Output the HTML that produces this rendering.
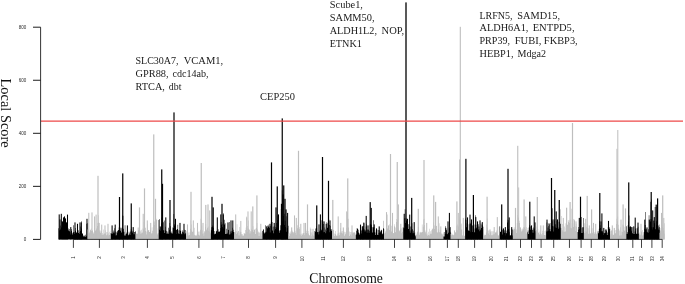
<!DOCTYPE html>
<html><head><meta charset="utf-8"><title>Local Score</title>
<style>
html,body{margin:0;padding:0;background:#fff;}
body{width:685px;height:284px;overflow:hidden;position:relative;}
svg{position:absolute;left:0;top:0;display:block;}
.tk{font-family:"Liberation Sans",sans-serif;font-size:4.5px;fill:#2a2a2a;}
.g{font-family:"Liberation Serif",serif;font-size:10.3px;fill:#1a1a1a;white-space:pre;}
.lab{font-family:"Liberation Serif",serif;font-size:14.5px;fill:#111;}
</style></head><body>
<svg width="685" height="284" viewBox="0 0 685 284">
<rect width="685" height="284" fill="#fff"/>
<path d="M58.50 239.40 L58.50 228.37 L59.00 228.37 L59.00 230.36 L59.50 230.36 L59.50 230.58 L60.00 230.58 L60.00 225.60 L60.50 225.60 L60.50 229.39 L61.00 229.39 L61.00 227.52 L61.50 227.52 L61.50 220.45 L62.00 220.45 L62.00 230.24 L62.50 230.24 L62.50 229.76 L63.00 229.76 L63.00 227.81 L63.50 227.81 L63.50 230.57 L64.00 230.57 L64.00 223.49 L64.50 223.49 L64.50 228.48 L65.00 228.48 L65.00 226.81 L65.50 226.81 L65.50 221.58 L66.00 221.58 L66.00 225.12 L66.50 225.12 L66.50 222.69 L67.00 222.69 L67.00 229.57 L67.50 229.57 L67.50 229.99 L68.00 229.99 L68.00 230.56 L68.50 230.56 L68.50 228.57 L69.00 228.57 L69.00 231.20 L69.50 231.20 L69.50 228.93 L70.00 228.93 L70.00 232.16 L70.50 232.16 L70.50 234.43 L71.00 234.43 L71.00 230.74 L71.50 230.74 L71.50 229.11 L72.00 229.11 L72.00 232.79 L72.50 232.79 L72.50 234.52 L73.00 234.52 L73.00 232.24 L73.50 232.24 L73.50 225.25 L74.00 225.25 L74.00 232.02 L74.50 232.02 L74.50 233.81 L75.00 233.81 L75.00 230.70 L75.50 230.70 L75.50 227.99 L76.00 227.99 L76.00 232.81 L76.50 232.81 L76.50 232.26 L77.00 232.26 L77.00 226.41 L77.50 226.41 L77.50 233.40 L78.00 233.40 L78.00 233.09 L78.50 233.09 L78.50 230.34 L79.00 230.34 L79.00 234.00 L79.50 234.00 L79.50 232.18 L80.00 232.18 L80.00 226.46 L80.50 226.46 L80.50 231.00 L81.00 231.00 L81.00 221.18 L81.50 221.18 L81.50 228.42 L82.00 228.42 L82.00 233.81 L82.50 233.81 L82.50 233.15 L83.00 233.15 L83.00 235.46 L83.50 235.46 L83.50 236.44 L84.00 236.44 L84.00 235.58 L84.50 235.58 L84.50 236.57 L85.00 236.57 L85.00 236.68 L85.50 236.68 L85.50 234.75 L86.00 234.75 L86.00 236.19 L86.50 236.19 L86.50 223.81 L87.00 223.81 L87.00 223.30 L87.50 223.30 L87.50 239.40Z" fill="#000"/>
<rect x="58.68" y="214.40" width="1.05" height="25.00" fill="#000"/>
<rect x="59.48" y="219.40" width="1.05" height="20.00" fill="#000"/>
<rect x="60.77" y="213.80" width="1.05" height="25.60" fill="#000"/>
<rect x="61.98" y="221.40" width="1.05" height="18.00" fill="#000"/>
<rect x="62.98" y="217.40" width="1.05" height="22.00" fill="#000"/>
<rect x="63.98" y="216.40" width="1.05" height="23.00" fill="#000"/>
<rect x="64.97" y="218.40" width="1.05" height="21.00" fill="#000"/>
<rect x="65.97" y="222.40" width="1.05" height="17.00" fill="#000"/>
<rect x="66.97" y="214.60" width="1.05" height="24.80" fill="#000"/>
<rect x="70.27" y="227.10" width="1.05" height="12.30" fill="#000"/>
<rect x="74.47" y="222.40" width="1.05" height="17.00" fill="#000"/>
<rect x="76.97" y="223.80" width="1.05" height="15.60" fill="#000"/>
<rect x="79.47" y="222.40" width="1.05" height="17.00" fill="#000"/>
<rect x="80.77" y="222.40" width="1.05" height="17.00" fill="#000"/>
<rect x="86.47" y="218.80" width="1.03" height="20.60" fill="#000"/>
<path d="M87.50 239.40 L87.50 229.44 L88.00 229.44 L88.00 233.08 L88.50 233.08 L88.50 228.90 L89.00 228.90 L89.00 233.22 L89.50 233.22 L89.50 231.74 L90.00 231.74 L90.00 230.31 L90.50 230.31 L90.50 229.60 L91.00 229.60 L91.00 230.95 L91.50 230.95 L91.50 228.39 L92.00 228.39 L92.00 229.89 L92.50 229.89 L92.50 230.97 L93.00 230.97 L93.00 233.58 L93.50 233.58 L93.50 232.36 L94.00 232.36 L94.00 227.74 L94.50 227.74 L94.50 233.75 L95.00 233.75 L95.00 230.95 L95.50 230.95 L95.50 229.95 L96.00 229.95 L96.00 228.27 L96.50 228.27 L96.50 229.55 L97.00 229.55 L97.00 225.93 L97.50 225.93 L97.50 222.91 L98.00 222.91 L98.00 215.20 L98.50 215.20 L98.50 222.70 L99.00 222.70 L99.00 230.12 L99.50 230.12 L99.50 231.44 L100.00 231.44 L100.00 232.65 L100.50 232.65 L100.50 230.51 L101.00 230.51 L101.00 231.01 L101.50 231.01 L101.50 235.07 L102.00 235.07 L102.00 234.72 L102.50 234.72 L102.50 233.07 L103.00 233.07 L103.00 229.58 L103.50 229.58 L103.50 234.43 L104.00 234.43 L104.00 233.09 L104.50 233.09 L104.50 234.07 L105.00 234.07 L105.00 233.61 L105.50 233.61 L105.50 230.13 L106.00 230.13 L106.00 231.88 L106.50 231.88 L106.50 235.21 L107.00 235.21 L107.00 232.12 L107.50 232.12 L107.50 234.56 L108.00 234.56 L108.00 233.27 L108.50 233.27 L108.50 235.42 L109.00 235.42 L109.00 234.92 L109.50 234.92 L109.50 231.77 L110.00 231.77 L110.00 233.23 L110.50 233.23 L110.50 230.68 L110.80 230.68 L110.80 239.40Z" fill="#bebebe"/>
<rect x="88.27" y="212.80" width="1.05" height="26.60" fill="#bebebe"/>
<rect x="91.47" y="212.40" width="1.05" height="27.00" fill="#bebebe"/>
<rect x="94.07" y="216.40" width="1.05" height="23.00" fill="#bebebe"/>
<rect x="95.57" y="214.60" width="1.05" height="24.80" fill="#bebebe"/>
<rect x="97.40" y="175.80" width="1.20" height="63.60" fill="#bebebe"/>
<rect x="98.67" y="222.90" width="1.05" height="16.50" fill="#bebebe"/>
<rect x="101.17" y="224.60" width="1.05" height="14.80" fill="#bebebe"/>
<rect x="104.47" y="225.40" width="1.05" height="14.00" fill="#bebebe"/>
<rect x="107.47" y="223.80" width="1.05" height="15.60" fill="#bebebe"/>
<path d="M110.80 239.40 L110.80 232.90 L111.30 232.90 L111.30 233.54 L111.80 233.54 L111.80 233.90 L112.30 233.90 L112.30 233.75 L112.80 233.75 L112.80 232.30 L113.30 232.30 L113.30 230.43 L113.80 230.43 L113.80 233.25 L114.30 233.25 L114.30 228.22 L114.80 228.22 L114.80 231.53 L115.30 231.53 L115.30 235.51 L115.80 235.51 L115.80 231.68 L116.30 231.68 L116.30 235.28 L116.80 235.28 L116.80 232.58 L117.30 232.58 L117.30 230.92 L117.80 230.92 L117.80 230.35 L118.30 230.35 L118.30 230.04 L118.80 230.04 L118.80 227.40 L119.30 227.40 L119.30 220.98 L119.80 220.98 L119.80 227.52 L120.30 227.52 L120.30 230.84 L120.80 230.84 L120.80 228.32 L121.30 228.32 L121.30 232.49 L121.80 232.49 L121.80 227.47 L122.30 227.47 L122.30 215.44 L122.80 215.44 L122.80 215.74 L123.30 215.74 L123.30 228.68 L123.80 228.68 L123.80 231.73 L124.30 231.73 L124.30 235.51 L124.80 235.51 L124.80 225.16 L125.30 225.16 L125.30 235.52 L125.80 235.52 L125.80 233.89 L126.30 233.89 L126.30 233.29 L126.80 233.29 L126.80 232.02 L127.30 232.02 L127.30 233.20 L127.80 233.20 L127.80 235.56 L128.30 235.56 L128.30 234.63 L128.80 234.63 L128.80 231.87 L129.30 231.87 L129.30 233.61 L129.80 233.61 L129.80 235.12 L130.30 235.12 L130.30 231.59 L130.80 231.59 L130.80 229.15 L131.30 229.15 L131.30 227.22 L131.80 227.22 L131.80 230.75 L132.30 230.75 L132.30 232.39 L132.80 232.39 L132.80 231.31 L133.30 231.31 L133.30 234.16 L133.80 234.16 L133.80 234.23 L134.30 234.23 L134.30 232.00 L134.80 232.00 L134.80 231.90 L135.30 231.90 L135.30 231.01 L135.70 231.01 L135.70 239.40Z" fill="#000"/>
<rect x="111.57" y="225.40" width="1.05" height="14.00" fill="#000"/>
<rect x="114.67" y="224.60" width="1.05" height="14.80" fill="#000"/>
<rect x="118.90" y="197.00" width="1.20" height="42.40" fill="#000"/>
<rect x="122.15" y="173.40" width="1.20" height="66.00" fill="#000"/>
<rect x="126.88" y="225.40" width="1.05" height="14.00" fill="#000"/>
<rect x="130.65" y="203.40" width="1.20" height="36.00" fill="#000"/>
<rect x="132.67" y="227.10" width="1.05" height="12.30" fill="#000"/>
<path d="M135.70 239.40 L135.70 233.45 L136.20 233.45 L136.20 233.38 L136.70 233.38 L136.70 234.08 L137.20 234.08 L137.20 233.56 L137.70 233.56 L137.70 227.55 L138.20 227.55 L138.20 227.62 L138.70 227.62 L138.70 230.27 L139.20 230.27 L139.20 226.92 L139.70 226.92 L139.70 231.64 L140.20 231.64 L140.20 230.60 L140.70 230.60 L140.70 233.72 L141.20 233.72 L141.20 229.80 L141.70 229.80 L141.70 232.77 L142.20 232.77 L142.20 232.53 L142.70 232.53 L142.70 228.62 L143.20 228.62 L143.20 229.61 L143.70 229.61 L143.70 222.11 L144.20 222.11 L144.20 217.54 L144.70 217.54 L144.70 226.91 L145.20 226.91 L145.20 228.00 L145.70 228.00 L145.70 230.93 L146.20 230.93 L146.20 234.54 L146.70 234.54 L146.70 231.94 L147.20 231.94 L147.20 224.13 L147.70 224.13 L147.70 230.96 L148.20 230.96 L148.20 230.00 L148.70 230.00 L148.70 229.90 L149.20 229.90 L149.20 232.01 L149.70 232.01 L149.70 232.12 L150.20 232.12 L150.20 229.64 L150.70 229.64 L150.70 227.44 L151.20 227.44 L151.20 233.61 L151.70 233.61 L151.70 233.32 L152.20 233.32 L152.20 230.70 L152.70 230.70 L152.70 227.23 L153.20 227.23 L153.20 220.36 L153.70 220.36 L153.70 222.13 L154.20 222.13 L154.20 221.34 L154.70 221.34 L154.70 224.90 L155.20 224.90 L155.20 223.41 L155.70 223.41 L155.70 218.54 L156.20 218.54 L156.20 228.45 L156.70 228.45 L156.70 228.34 L157.20 228.34 L157.20 234.54 L157.70 234.54 L157.70 233.33 L158.20 233.33 L158.20 233.07 L158.60 233.07 L158.60 239.40Z" fill="#bebebe"/>
<rect x="138.90" y="207.40" width="1.20" height="32.00" fill="#bebebe"/>
<rect x="142.67" y="213.80" width="1.05" height="25.60" fill="#bebebe"/>
<rect x="143.90" y="188.40" width="1.20" height="51.00" fill="#bebebe"/>
<rect x="146.78" y="220.40" width="1.05" height="19.00" fill="#bebebe"/>
<rect x="150.17" y="222.90" width="1.05" height="16.50" fill="#bebebe"/>
<rect x="153.15" y="134.40" width="1.20" height="105.00" fill="#bebebe"/>
<rect x="154.90" y="198.80" width="1.20" height="40.60" fill="#bebebe"/>
<rect x="155.97" y="219.60" width="1.05" height="19.80" fill="#bebebe"/>
<path d="M158.60 239.40 L158.60 220.05 L159.10 220.05 L159.10 218.90 L159.60 218.90 L159.60 229.64 L160.10 229.64 L160.10 230.76 L160.60 230.76 L160.60 227.33 L161.10 227.33 L161.10 223.22 L161.60 223.22 L161.60 217.62 L162.10 217.62 L162.10 215.51 L162.60 215.51 L162.60 220.62 L163.10 220.62 L163.10 222.31 L163.60 222.31 L163.60 230.29 L164.10 230.29 L164.10 220.41 L164.60 220.41 L164.60 233.02 L165.10 233.02 L165.10 226.85 L165.60 226.85 L165.60 230.18 L166.10 230.18 L166.10 231.07 L166.60 231.07 L166.60 233.74 L167.10 233.74 L167.10 233.54 L167.60 233.54 L167.60 231.57 L168.10 231.57 L168.10 227.63 L168.60 227.63 L168.60 233.87 L169.10 233.87 L169.10 229.77 L169.60 229.77 L169.60 222.95 L170.10 222.95 L170.10 226.27 L170.60 226.27 L170.60 232.44 L171.10 232.44 L171.10 233.15 L171.60 233.15 L171.60 231.52 L172.10 231.52 L172.10 233.50 L172.60 233.50 L172.60 227.39 L173.10 227.39 L173.10 227.88 L173.60 227.88 L173.60 213.92 L174.10 213.92 L174.10 225.54 L174.60 225.54 L174.60 224.04 L175.10 224.04 L175.10 228.18 L175.60 228.18 L175.60 233.99 L176.10 233.99 L176.10 229.94 L176.60 229.94 L176.60 229.55 L177.10 229.55 L177.10 229.12 L177.60 229.12 L177.60 224.75 L178.10 224.75 L178.10 233.41 L178.60 233.41 L178.60 230.28 L179.10 230.28 L179.10 233.92 L179.60 233.92 L179.60 230.36 L180.10 230.36 L180.10 230.65 L180.60 230.65 L180.60 230.85 L181.10 230.85 L181.10 233.46 L181.60 233.46 L181.60 234.26 L182.10 234.26 L182.10 231.86 L182.60 231.86 L182.60 230.29 L183.10 230.29 L183.10 231.75 L183.60 231.75 L183.60 233.33 L184.10 233.33 L184.10 229.72 L184.60 229.72 L184.60 234.25 L185.10 234.25 L185.10 230.01 L185.60 230.01 L185.60 233.27 L186.10 233.27 L186.10 239.40Z" fill="#000"/>
<rect x="159.67" y="226.40" width="1.05" height="13.00" fill="#000"/>
<rect x="161.15" y="169.40" width="1.20" height="70.00" fill="#000"/>
<rect x="161.90" y="183.80" width="1.20" height="55.60" fill="#000"/>
<rect x="165.28" y="217.40" width="1.05" height="22.00" fill="#000"/>
<rect x="169.40" y="200.00" width="1.20" height="39.40" fill="#000"/>
<rect x="173.40" y="112.40" width="1.20" height="127.00" fill="#000"/>
<rect x="174.97" y="218.80" width="1.05" height="20.60" fill="#000"/>
<rect x="179.47" y="222.90" width="1.05" height="16.50" fill="#000"/>
<rect x="183.47" y="223.80" width="1.05" height="15.60" fill="#000"/>
<path d="M186.10 239.40 L186.10 231.20 L186.60 231.20 L186.60 235.86 L187.10 235.86 L187.10 234.45 L187.60 234.45 L187.60 235.43 L188.10 235.43 L188.10 232.54 L188.60 232.54 L188.60 235.40 L189.10 235.40 L189.10 234.97 L189.60 234.97 L189.60 232.20 L190.10 232.20 L190.10 228.69 L190.60 228.69 L190.60 220.30 L191.10 220.30 L191.10 224.61 L191.60 224.61 L191.60 230.54 L192.10 230.54 L192.10 231.93 L192.60 231.93 L192.60 231.52 L193.10 231.52 L193.10 231.16 L193.60 231.16 L193.60 235.47 L194.10 235.47 L194.10 227.67 L194.60 227.67 L194.60 234.66 L195.10 234.66 L195.10 234.88 L195.60 234.88 L195.60 235.89 L196.10 235.89 L196.10 234.79 L196.60 234.79 L196.60 235.66 L197.10 235.66 L197.10 235.39 L197.60 235.39 L197.60 231.97 L198.10 231.97 L198.10 231.47 L198.60 231.47 L198.60 234.69 L199.10 234.69 L199.10 235.44 L199.60 235.44 L199.60 231.44 L200.10 231.44 L200.10 229.75 L200.60 229.75 L200.60 218.79 L201.10 218.79 L201.10 220.34 L201.60 220.34 L201.60 225.44 L202.10 225.44 L202.10 230.35 L202.60 230.35 L202.60 233.84 L203.10 233.84 L203.10 233.23 L203.60 233.23 L203.60 235.87 L204.10 235.87 L204.10 230.96 L204.60 230.96 L204.60 232.20 L205.10 232.20 L205.10 227.03 L205.60 227.03 L205.60 224.05 L206.10 224.05 L206.10 230.37 L206.60 230.37 L206.60 229.25 L207.10 229.25 L207.10 227.59 L207.60 227.59 L207.60 228.08 L208.10 228.08 L208.10 226.61 L208.60 226.61 L208.60 230.86 L209.10 230.86 L209.10 231.76 L209.60 231.76 L209.60 229.41 L210.10 229.41 L210.10 232.55 L210.60 232.55 L210.60 233.49 L210.90 233.49 L210.90 239.40Z" fill="#bebebe"/>
<rect x="186.97" y="224.40" width="1.05" height="15.00" fill="#bebebe"/>
<rect x="190.40" y="191.80" width="1.20" height="47.60" fill="#bebebe"/>
<rect x="192.78" y="220.40" width="1.05" height="19.00" fill="#bebebe"/>
<rect x="196.97" y="222.90" width="1.05" height="16.50" fill="#bebebe"/>
<rect x="200.65" y="163.00" width="1.20" height="76.40" fill="#bebebe"/>
<rect x="202.47" y="222.90" width="1.05" height="16.50" fill="#bebebe"/>
<rect x="205.20" y="204.90" width="1.20" height="34.50" fill="#bebebe"/>
<rect x="207.40" y="204.40" width="1.20" height="35.00" fill="#bebebe"/>
<rect x="209.17" y="210.40" width="1.05" height="29.00" fill="#bebebe"/>
<path d="M210.90 239.40 L210.90 230.16 L211.40 230.16 L211.40 227.33 L211.90 227.33 L211.90 226.97 L212.40 226.97 L212.40 225.42 L212.90 225.42 L212.90 226.41 L213.40 226.41 L213.40 228.00 L213.90 228.00 L213.90 231.12 L214.40 231.12 L214.40 234.29 L214.90 234.29 L214.90 233.80 L215.40 233.80 L215.40 233.87 L215.90 233.87 L215.90 231.16 L216.40 231.16 L216.40 231.13 L216.90 231.13 L216.90 230.47 L217.40 230.47 L217.40 233.27 L217.90 233.27 L217.90 229.37 L218.40 229.37 L218.40 231.75 L218.90 231.75 L218.90 231.57 L219.40 231.57 L219.40 231.68 L219.90 231.68 L219.90 230.79 L220.40 230.79 L220.40 227.89 L220.90 227.89 L220.90 221.90 L221.40 221.90 L221.40 224.69 L221.90 224.69 L221.90 223.65 L222.40 223.65 L222.40 226.98 L222.90 226.98 L222.90 228.61 L223.40 228.61 L223.40 213.26 L223.90 213.26 L223.90 224.58 L224.40 224.58 L224.40 219.82 L224.90 219.82 L224.90 223.33 L225.40 223.33 L225.40 234.07 L225.90 234.07 L225.90 233.78 L226.40 233.78 L226.40 228.86 L226.90 228.86 L226.90 233.97 L227.40 233.97 L227.40 232.70 L227.90 232.70 L227.90 229.85 L228.40 229.85 L228.40 230.04 L228.90 230.04 L228.90 234.48 L229.40 234.48 L229.40 221.97 L229.90 221.97 L229.90 234.25 L230.40 234.25 L230.40 231.57 L230.90 231.57 L230.90 233.30 L231.40 233.30 L231.40 231.30 L231.90 231.30 L231.90 230.64 L232.40 230.64 L232.40 227.74 L232.90 227.74 L232.90 232.04 L233.40 232.04 L233.40 229.68 L233.90 229.68 L233.90 232.28 L234.30 232.28 L234.30 239.40Z" fill="#000"/>
<rect x="211.40" y="196.80" width="1.20" height="42.60" fill="#000"/>
<rect x="212.60" y="207.40" width="1.20" height="32.00" fill="#000"/>
<rect x="216.78" y="217.40" width="1.05" height="22.00" fill="#000"/>
<rect x="220.28" y="214.40" width="1.05" height="25.00" fill="#000"/>
<rect x="221.40" y="203.80" width="1.20" height="35.60" fill="#000"/>
<rect x="222.78" y="214.40" width="1.05" height="25.00" fill="#000"/>
<rect x="227.47" y="222.40" width="1.05" height="17.00" fill="#000"/>
<rect x="230.47" y="220.40" width="1.05" height="19.00" fill="#000"/>
<rect x="232.28" y="220.40" width="1.05" height="19.00" fill="#000"/>
<path d="M234.30 239.40 L234.30 232.21 L234.80 232.21 L234.80 232.63 L235.30 232.63 L235.30 232.20 L235.80 232.20 L235.80 231.12 L236.30 231.12 L236.30 234.03 L236.80 234.03 L236.80 224.18 L237.30 224.18 L237.30 232.59 L237.80 232.59 L237.80 230.77 L238.30 230.77 L238.30 230.96 L238.80 230.96 L238.80 235.54 L239.30 235.54 L239.30 226.96 L239.80 226.96 L239.80 232.43 L240.30 232.43 L240.30 231.42 L240.80 231.42 L240.80 232.01 L241.30 232.01 L241.30 234.02 L241.80 234.02 L241.80 235.39 L242.30 235.39 L242.30 233.99 L242.80 233.99 L242.80 235.85 L243.30 235.85 L243.30 235.55 L243.80 235.55 L243.80 232.94 L244.30 232.94 L244.30 233.44 L244.80 233.44 L244.80 233.68 L245.30 233.68 L245.30 229.89 L245.80 229.89 L245.80 227.39 L246.30 227.39 L246.30 216.43 L246.80 216.43 L246.80 231.99 L247.30 231.99 L247.30 226.02 L247.80 226.02 L247.80 228.58 L248.30 228.58 L248.30 220.42 L248.80 220.42 L248.80 229.86 L249.30 229.86 L249.30 229.62 L249.80 229.62 L249.80 233.53 L250.30 233.53 L250.30 231.03 L250.80 231.03 L250.80 231.66 L251.30 231.66 L251.30 228.63 L251.80 228.63 L251.80 230.34 L252.30 230.34 L252.30 230.01 L252.80 230.01 L252.80 226.17 L253.30 226.17 L253.30 231.94 L253.80 231.94 L253.80 229.80 L254.30 229.80 L254.30 229.80 L254.80 229.80 L254.80 228.91 L255.30 228.91 L255.30 233.93 L255.80 233.93 L255.80 228.20 L256.30 228.20 L256.30 227.64 L256.80 227.64 L256.80 223.10 L257.30 223.10 L257.30 229.58 L257.80 229.58 L257.80 232.61 L258.30 232.61 L258.30 231.47 L258.80 231.47 L258.80 235.89 L259.30 235.89 L259.30 232.50 L259.80 232.50 L259.80 232.53 L260.30 232.53 L260.30 233.53 L260.80 233.53 L260.80 235.85 L261.30 235.85 L261.30 232.47 L261.80 232.47 L261.80 231.80 L262.30 231.80 L262.30 235.17 L262.40 235.17 L262.40 239.40Z" fill="#bebebe"/>
<rect x="235.17" y="214.40" width="1.05" height="25.00" fill="#bebebe"/>
<rect x="240.28" y="220.90" width="1.05" height="18.50" fill="#bebebe"/>
<rect x="246.17" y="217.40" width="1.05" height="22.00" fill="#bebebe"/>
<rect x="247.47" y="211.40" width="1.05" height="28.00" fill="#bebebe"/>
<rect x="250.67" y="211.40" width="1.05" height="28.00" fill="#bebebe"/>
<rect x="252.20" y="206.40" width="1.20" height="33.00" fill="#bebebe"/>
<rect x="256.30" y="195.40" width="1.20" height="44.00" fill="#bebebe"/>
<rect x="260.28" y="223.80" width="1.05" height="15.60" fill="#bebebe"/>
<path d="M262.40 239.40 L262.40 230.89 L262.90 230.89 L262.90 230.09 L263.40 230.09 L263.40 228.88 L263.90 228.88 L263.90 232.56 L264.40 232.56 L264.40 233.44 L264.90 233.44 L264.90 232.44 L265.40 232.44 L265.40 225.28 L265.90 225.28 L265.90 231.79 L266.40 231.79 L266.40 231.78 L266.90 231.78 L266.90 225.76 L267.40 225.76 L267.40 228.32 L267.90 228.32 L267.90 224.83 L268.40 224.83 L268.40 226.60 L268.90 226.60 L268.90 226.38 L269.40 226.38 L269.40 227.96 L269.90 227.96 L269.90 232.59 L270.40 232.59 L270.40 225.72 L270.90 225.72 L270.90 222.13 L271.40 222.13 L271.40 216.17 L271.90 216.17 L271.90 222.09 L272.40 222.09 L272.40 230.41 L272.90 230.41 L272.90 226.87 L273.40 226.87 L273.40 233.31 L273.90 233.31 L273.90 225.67 L274.40 225.67 L274.40 230.46 L274.90 230.46 L274.90 226.94 L275.40 226.94 L275.40 228.99 L275.90 228.99 L275.90 227.59 L276.40 227.59 L276.40 222.92 L276.90 222.92 L276.90 215.60 L277.40 215.60 L277.40 220.05 L277.90 220.05 L277.90 228.19 L278.40 228.19 L278.40 232.59 L278.90 232.59 L278.90 232.65 L279.40 232.65 L279.40 230.40 L279.90 230.40 L279.90 230.36 L280.40 230.36 L280.40 225.29 L280.90 225.29 L280.90 208.88 L281.40 208.88 L281.40 215.08 L281.90 215.08 L281.90 190.18 L282.40 190.18 L282.40 221.20 L282.90 221.20 L282.90 215.84 L283.40 215.84 L283.40 215.99 L283.90 215.99 L283.90 224.96 L284.40 224.96 L284.40 213.71 L284.90 213.71 L284.90 220.67 L285.40 220.67 L285.40 226.94 L285.90 226.94 L285.90 216.33 L286.40 216.33 L286.40 231.75 L286.90 231.75 L286.90 228.31 L287.40 228.31 L287.40 227.78 L287.90 227.78 L287.90 225.75 L288.40 225.75 L288.40 239.40Z" fill="#000"/>
<rect x="266.18" y="226.40" width="1.05" height="13.00" fill="#000"/>
<rect x="269.48" y="223.80" width="1.05" height="15.60" fill="#000"/>
<rect x="270.90" y="162.40" width="1.20" height="77.00" fill="#000"/>
<rect x="273.68" y="222.90" width="1.05" height="16.50" fill="#000"/>
<rect x="275.40" y="207.40" width="1.20" height="32.00" fill="#000"/>
<rect x="276.65" y="186.40" width="1.20" height="53.00" fill="#000"/>
<rect x="277.98" y="214.40" width="1.05" height="25.00" fill="#000"/>
<rect x="280.90" y="203.80" width="1.20" height="35.60" fill="#000"/>
<rect x="281.65" y="118.40" width="1.20" height="121.00" fill="#000"/>
<rect x="282.40" y="194.40" width="1.20" height="45.00" fill="#000"/>
<rect x="283.15" y="185.40" width="1.20" height="54.00" fill="#000"/>
<rect x="284.40" y="198.80" width="1.20" height="40.60" fill="#000"/>
<rect x="285.40" y="209.40" width="1.20" height="30.00" fill="#000"/>
<rect x="287.08" y="212.90" width="1.05" height="26.50" fill="#000"/>
<path d="M288.40 239.40 L288.40 233.44 L288.90 233.44 L288.90 235.88 L289.40 235.88 L289.40 232.63 L289.90 232.63 L289.90 233.72 L290.40 233.72 L290.40 231.45 L290.90 231.45 L290.90 233.10 L291.40 233.10 L291.40 227.69 L291.90 227.69 L291.90 230.60 L292.40 230.60 L292.40 231.84 L292.90 231.84 L292.90 233.29 L293.40 233.29 L293.40 231.90 L293.90 231.90 L293.90 231.48 L294.40 231.48 L294.40 234.57 L294.90 234.57 L294.90 230.63 L295.40 230.63 L295.40 232.86 L295.90 232.86 L295.90 235.03 L296.40 235.03 L296.40 234.66 L296.90 234.66 L296.90 228.31 L297.40 228.31 L297.40 225.33 L297.90 225.33 L297.90 221.48 L298.40 221.48 L298.40 216.26 L298.90 216.26 L298.90 227.07 L299.40 227.07 L299.40 228.75 L299.90 228.75 L299.90 234.15 L300.40 234.15 L300.40 235.15 L300.90 235.15 L300.90 233.73 L301.40 233.73 L301.40 235.76 L301.90 235.76 L301.90 233.48 L302.40 233.48 L302.40 234.64 L302.90 234.64 L302.90 233.12 L303.40 233.12 L303.40 233.28 L303.90 233.28 L303.90 233.07 L304.40 233.07 L304.40 234.92 L304.90 234.92 L304.90 235.89 L305.40 235.89 L305.40 235.42 L305.90 235.42 L305.90 233.03 L306.40 233.03 L306.40 230.64 L306.90 230.64 L306.90 228.63 L307.40 228.63 L307.40 228.62 L307.90 228.62 L307.90 231.06 L308.40 231.06 L308.40 233.53 L308.90 233.53 L308.90 235.10 L309.40 235.10 L309.40 235.39 L309.90 235.39 L309.90 227.53 L310.40 227.53 L310.40 232.47 L310.90 232.47 L310.90 236.14 L311.40 236.14 L311.40 232.46 L311.90 232.46 L311.90 232.16 L312.40 232.16 L312.40 234.42 L312.90 234.42 L312.90 235.86 L313.40 235.86 L313.40 235.45 L313.90 235.45 L313.90 232.48 L314.40 232.48 L314.40 236.06 L314.60 236.06 L314.60 239.40Z" fill="#bebebe"/>
<rect x="291.18" y="227.40" width="1.05" height="12.00" fill="#bebebe"/>
<rect x="293.98" y="215.40" width="1.05" height="24.00" fill="#bebebe"/>
<rect x="295.78" y="217.90" width="1.05" height="21.50" fill="#bebebe"/>
<rect x="297.90" y="150.80" width="1.20" height="88.60" fill="#bebebe"/>
<rect x="300.28" y="223.80" width="1.05" height="15.60" fill="#bebebe"/>
<rect x="303.48" y="222.90" width="1.05" height="16.50" fill="#bebebe"/>
<rect x="304.98" y="222.90" width="1.05" height="16.50" fill="#bebebe"/>
<rect x="306.90" y="204.40" width="1.20" height="35.00" fill="#bebebe"/>
<rect x="310.28" y="228.80" width="1.05" height="10.60" fill="#bebebe"/>
<rect x="312.48" y="228.80" width="1.05" height="10.60" fill="#bebebe"/>
<path d="M314.60 239.40 L314.60 231.08 L315.10 231.08 L315.10 228.38 L315.60 228.38 L315.60 231.82 L316.10 231.82 L316.10 226.36 L316.60 226.36 L316.60 228.32 L317.10 228.32 L317.10 232.11 L317.60 232.11 L317.60 232.21 L318.10 232.21 L318.10 231.98 L318.60 231.98 L318.60 234.54 L319.10 234.54 L319.10 231.46 L319.60 231.46 L319.60 230.41 L320.10 230.41 L320.10 228.98 L320.60 228.98 L320.60 230.93 L321.10 230.93 L321.10 229.79 L321.60 229.79 L321.60 220.26 L322.10 220.26 L322.10 218.03 L322.60 218.03 L322.60 221.23 L323.10 221.23 L323.10 224.04 L323.60 224.04 L323.60 232.37 L324.10 232.37 L324.10 231.93 L324.60 231.93 L324.60 227.52 L325.10 227.52 L325.10 229.40 L325.60 229.40 L325.60 233.24 L326.10 233.24 L326.10 231.27 L326.60 231.27 L326.60 222.20 L327.10 222.20 L327.10 227.86 L327.60 227.86 L327.60 223.13 L328.10 223.13 L328.10 213.76 L328.60 213.76 L328.60 219.33 L329.10 219.33 L329.10 225.04 L329.60 225.04 L329.60 232.15 L330.10 232.15 L330.10 225.71 L330.60 225.71 L330.60 229.57 L331.10 229.57 L331.10 230.67 L331.60 230.67 L331.60 229.10 L332.00 229.10 L332.00 239.40Z" fill="#000"/>
<rect x="316.15" y="205.40" width="1.20" height="34.00" fill="#000"/>
<rect x="318.48" y="224.40" width="1.05" height="15.00" fill="#000"/>
<rect x="319.88" y="214.40" width="1.05" height="25.00" fill="#000"/>
<rect x="321.90" y="157.00" width="1.20" height="82.40" fill="#000"/>
<rect x="323.48" y="221.40" width="1.05" height="18.00" fill="#000"/>
<rect x="325.68" y="223.80" width="1.05" height="15.60" fill="#000"/>
<rect x="327.90" y="180.80" width="1.20" height="58.60" fill="#000"/>
<rect x="329.48" y="220.40" width="1.05" height="19.00" fill="#000"/>
<path d="M332.00 239.40 L332.00 229.16 L332.50 229.16 L332.50 224.59 L333.00 224.59 L333.00 230.05 L333.50 230.05 L333.50 229.77 L334.00 229.77 L334.00 233.59 L334.50 233.59 L334.50 235.88 L335.00 235.88 L335.00 231.11 L335.50 231.11 L335.50 234.16 L336.00 234.16 L336.00 235.72 L336.50 235.72 L336.50 235.38 L337.00 235.38 L337.00 233.38 L337.50 233.38 L337.50 235.67 L338.00 235.67 L338.00 235.75 L338.50 235.75 L338.50 232.90 L339.00 232.90 L339.00 235.26 L339.50 235.26 L339.50 232.45 L340.00 232.45 L340.00 232.72 L340.50 232.72 L340.50 228.01 L341.00 228.01 L341.00 232.75 L341.50 232.75 L341.50 231.15 L342.00 231.15 L342.00 230.90 L342.50 230.90 L342.50 233.46 L343.00 233.46 L343.00 228.40 L343.50 228.40 L343.50 232.61 L344.00 232.61 L344.00 231.68 L344.50 231.68 L344.50 235.81 L345.00 235.81 L345.00 234.36 L345.50 234.36 L345.50 232.14 L346.00 232.14 L346.00 231.26 L346.50 231.26 L346.50 228.12 L347.00 228.12 L347.00 219.35 L347.50 219.35 L347.50 212.62 L348.00 212.62 L348.00 218.81 L348.50 218.81 L348.50 227.39 L349.00 227.39 L349.00 231.42 L349.50 231.42 L349.50 235.89 L350.00 235.89 L350.00 234.44 L350.50 234.44 L350.50 232.01 L351.00 232.01 L351.00 235.84 L351.50 235.84 L351.50 232.04 L352.00 232.04 L352.00 233.61 L352.50 233.61 L352.50 231.76 L353.00 231.76 L353.00 232.91 L353.50 232.91 L353.50 231.92 L354.00 231.92 L354.00 232.14 L354.50 232.14 L354.50 232.47 L355.00 232.47 L355.00 235.29 L355.50 235.29 L355.50 232.95 L355.80 232.95 L355.80 239.40Z" fill="#bebebe"/>
<rect x="332.20" y="199.90" width="1.20" height="39.50" fill="#bebebe"/>
<rect x="337.68" y="216.40" width="1.05" height="23.00" fill="#bebebe"/>
<rect x="340.28" y="222.90" width="1.05" height="16.50" fill="#bebebe"/>
<rect x="342.78" y="227.40" width="1.05" height="12.00" fill="#bebebe"/>
<rect x="346.18" y="211.40" width="1.05" height="28.00" fill="#bebebe"/>
<rect x="347.15" y="178.40" width="1.20" height="61.00" fill="#bebebe"/>
<rect x="351.48" y="225.40" width="1.05" height="14.00" fill="#bebebe"/>
<path d="M355.80 239.40 L355.80 234.47 L356.30 234.47 L356.30 230.86 L356.80 230.86 L356.80 228.09 L357.30 228.09 L357.30 230.68 L357.80 230.68 L357.80 232.22 L358.30 232.22 L358.30 229.68 L358.80 229.68 L358.80 232.95 L359.30 232.95 L359.30 234.55 L359.80 234.55 L359.80 234.58 L360.30 234.58 L360.30 233.66 L360.80 233.66 L360.80 233.43 L361.30 233.43 L361.30 230.49 L361.80 230.49 L361.80 229.65 L362.30 229.65 L362.30 226.13 L362.80 226.13 L362.80 228.43 L363.30 228.43 L363.30 226.04 L363.80 226.04 L363.80 223.34 L364.30 223.34 L364.30 229.62 L364.80 229.62 L364.80 231.62 L365.30 231.62 L365.30 230.22 L365.80 230.22 L365.80 226.39 L366.30 226.39 L366.30 223.73 L366.80 223.73 L366.80 232.85 L367.30 232.85 L367.30 229.78 L367.80 229.78 L367.80 228.88 L368.30 228.88 L368.30 229.90 L368.80 229.90 L368.80 232.76 L369.30 232.76 L369.30 230.64 L369.80 230.64 L369.80 224.40 L370.30 224.40 L370.30 224.11 L370.80 224.11 L370.80 225.31 L371.30 225.31 L371.30 224.56 L371.80 224.56 L371.80 227.11 L372.30 227.11 L372.30 232.38 L372.80 232.38 L372.80 227.51 L373.30 227.51 L373.30 220.13 L373.80 220.13 L373.80 227.09 L374.30 227.09 L374.30 232.25 L374.80 232.25 L374.80 232.39 L375.30 232.39 L375.30 235.07 L375.80 235.07 L375.80 230.34 L376.30 230.34 L376.30 234.41 L376.80 234.41 L376.80 229.85 L377.30 229.85 L377.30 234.74 L377.80 234.74 L377.80 234.88 L378.30 234.88 L378.30 230.07 L378.80 230.07 L378.80 233.11 L379.30 233.11 L379.30 230.24 L379.80 230.24 L379.80 231.85 L380.30 231.85 L380.30 230.77 L380.80 230.77 L380.80 232.41 L381.30 232.41 L381.30 229.82 L381.80 229.82 L381.80 233.37 L382.30 233.37 L382.30 234.17 L382.80 234.17 L382.80 233.83 L383.30 233.83 L383.30 232.85 L383.80 232.85 L383.80 220.75 L384.00 220.75 L384.00 239.40Z" fill="#000"/>
<rect x="356.98" y="228.80" width="1.05" height="10.60" fill="#000"/>
<rect x="359.98" y="224.60" width="1.05" height="14.80" fill="#000"/>
<rect x="361.78" y="226.40" width="1.05" height="13.00" fill="#000"/>
<rect x="363.28" y="222.60" width="1.05" height="16.80" fill="#000"/>
<rect x="365.68" y="215.90" width="1.05" height="23.50" fill="#000"/>
<rect x="367.48" y="225.40" width="1.05" height="14.00" fill="#000"/>
<rect x="369.60" y="202.10" width="1.20" height="37.30" fill="#000"/>
<rect x="370.60" y="207.90" width="1.20" height="31.50" fill="#000"/>
<rect x="373.68" y="224.40" width="1.05" height="15.00" fill="#000"/>
<rect x="375.98" y="228.40" width="1.05" height="11.00" fill="#000"/>
<rect x="378.68" y="226.40" width="1.05" height="13.00" fill="#000"/>
<rect x="380.98" y="230.40" width="1.05" height="9.00" fill="#000"/>
<rect x="383.08" y="228.40" width="0.92" height="11.00" fill="#000"/>
<path d="M384.00 239.40 L384.00 233.61 L384.50 233.61 L384.50 229.08 L385.00 229.08 L385.00 232.43 L385.50 232.43 L385.50 230.81 L386.00 230.81 L386.00 219.89 L386.50 219.89 L386.50 230.90 L387.00 230.90 L387.00 214.59 L387.50 214.59 L387.50 228.39 L388.00 228.39 L388.00 233.05 L388.50 233.05 L388.50 232.86 L389.00 232.86 L389.00 229.90 L389.50 229.90 L389.50 224.34 L390.00 224.34 L390.00 222.54 L390.50 222.54 L390.50 216.18 L391.00 216.18 L391.00 225.84 L391.50 225.84 L391.50 231.59 L392.00 231.59 L392.00 226.89 L392.50 226.89 L392.50 230.93 L393.00 230.93 L393.00 233.05 L393.50 233.05 L393.50 233.17 L394.00 233.17 L394.00 233.73 L394.50 233.73 L394.50 224.15 L395.00 224.15 L395.00 227.45 L395.50 227.45 L395.50 232.18 L396.00 232.18 L396.00 218.96 L396.50 218.96 L396.50 222.03 L397.00 222.03 L397.00 219.92 L397.50 219.92 L397.50 219.45 L398.00 219.45 L398.00 229.24 L398.50 229.24 L398.50 227.42 L399.00 227.42 L399.00 231.23 L399.50 231.23 L399.50 230.22 L400.00 230.22 L400.00 228.71 L400.50 228.71 L400.50 229.86 L401.00 229.86 L401.00 233.25 L401.50 233.25 L401.50 228.24 L402.00 228.24 L402.00 227.35 L402.50 227.35 L402.50 231.67 L403.00 231.67 L403.00 227.19 L403.30 227.19 L403.30 239.40Z" fill="#bebebe"/>
<rect x="385.98" y="212.10" width="1.05" height="27.30" fill="#bebebe"/>
<rect x="387.98" y="225.40" width="1.05" height="14.00" fill="#bebebe"/>
<rect x="389.90" y="154.00" width="1.20" height="85.40" fill="#bebebe"/>
<rect x="391.98" y="212.90" width="1.05" height="26.50" fill="#bebebe"/>
<rect x="393.98" y="226.40" width="1.05" height="13.00" fill="#bebebe"/>
<rect x="396.65" y="162.00" width="1.20" height="77.40" fill="#bebebe"/>
<rect x="397.70" y="204.40" width="1.20" height="35.00" fill="#bebebe"/>
<rect x="400.28" y="223.80" width="1.05" height="15.60" fill="#bebebe"/>
<path d="M403.30 239.40 L403.30 227.53 L403.80 227.53 L403.80 228.21 L404.30 228.21 L404.30 218.16 L404.80 218.16 L404.80 209.20 L405.30 209.20 L405.30 222.99 L405.80 222.99 L405.80 218.11 L406.30 218.11 L406.30 220.46 L406.80 220.46 L406.80 219.01 L407.30 219.01 L407.30 219.98 L407.80 219.98 L407.80 224.10 L408.30 224.10 L408.30 228.91 L408.80 228.91 L408.80 224.41 L409.30 224.41 L409.30 231.27 L409.80 231.27 L409.80 232.63 L410.30 232.63 L410.30 226.43 L410.80 226.43 L410.80 230.39 L411.30 230.39 L411.30 226.15 L411.80 226.15 L411.80 223.30 L412.30 223.30 L412.30 229.13 L412.80 229.13 L412.80 233.27 L413.30 233.27 L413.30 230.71 L413.80 230.71 L413.80 232.60 L414.30 232.60 L414.30 233.16 L414.80 233.16 L414.80 235.01 L415.30 235.01 L415.30 236.15 L415.80 236.15 L415.80 232.27 L415.90 232.27 L415.90 239.40Z" fill="#000"/>
<rect x="403.68" y="213.80" width="1.05" height="25.60" fill="#000"/>
<rect x="405.35" y="2.40" width="1.30" height="237.00" fill="#000"/>
<rect x="406.98" y="218.80" width="1.05" height="20.60" fill="#000"/>
<rect x="409.18" y="214.60" width="1.05" height="24.80" fill="#000"/>
<rect x="411.10" y="197.90" width="1.20" height="41.50" fill="#000"/>
<rect x="413.68" y="222.10" width="1.05" height="17.30" fill="#000"/>
<path d="M415.90 239.40 L415.90 233.70 L416.40 233.70 L416.40 235.09 L416.90 235.09 L416.90 232.32 L417.40 232.32 L417.40 231.61 L417.90 231.61 L417.90 226.71 L418.40 226.71 L418.40 226.89 L418.90 226.89 L418.90 232.55 L419.40 232.55 L419.40 234.79 L419.90 234.79 L419.90 231.76 L420.40 231.76 L420.40 232.55 L420.90 232.55 L420.90 232.40 L421.40 232.40 L421.40 232.23 L421.90 232.23 L421.90 224.61 L422.40 224.61 L422.40 232.00 L422.90 232.00 L422.90 226.86 L423.40 226.86 L423.40 219.53 L423.90 219.53 L423.90 218.78 L424.40 218.78 L424.40 224.90 L424.90 224.90 L424.90 230.62 L425.40 230.62 L425.40 232.21 L425.90 232.21 L425.90 234.33 L426.40 234.33 L426.40 235.01 L426.90 235.01 L426.90 233.59 L427.40 233.59 L427.40 235.75 L427.90 235.75 L427.90 234.92 L428.40 234.92 L428.40 231.85 L428.90 231.85 L428.90 235.40 L429.40 235.40 L429.40 228.66 L429.90 228.66 L429.90 233.65 L430.40 233.65 L430.40 231.24 L430.90 231.24 L430.90 233.81 L431.40 233.81 L431.40 230.14 L431.90 230.14 L431.90 228.41 L432.40 228.41 L432.40 229.37 L432.90 229.37 L432.90 228.50 L433.40 228.50 L433.40 222.18 L433.90 222.18 L433.90 225.45 L434.40 225.45 L434.40 229.06 L434.90 229.06 L434.90 224.88 L435.40 224.88 L435.40 221.78 L435.90 221.78 L435.90 225.75 L436.40 225.75 L436.40 226.00 L436.90 226.00 L436.90 232.07 L437.40 232.07 L437.40 232.73 L437.90 232.73 L437.90 229.00 L438.40 229.00 L438.40 231.59 L438.90 231.59 L438.90 223.21 L439.40 223.21 L439.40 232.21 L439.90 232.21 L439.90 229.71 L440.40 229.71 L440.40 231.82 L440.90 231.82 L440.90 233.01 L441.40 233.01 L441.40 234.04 L441.90 234.04 L441.90 235.17 L442.40 235.17 L442.40 233.85 L442.90 233.85 L442.90 233.60 L443.40 233.60 L443.40 239.40Z" fill="#bebebe"/>
<rect x="417.70" y="208.80" width="1.20" height="30.60" fill="#bebebe"/>
<rect x="423.40" y="160.00" width="1.20" height="79.40" fill="#bebebe"/>
<rect x="426.18" y="222.90" width="1.05" height="16.50" fill="#bebebe"/>
<rect x="433.15" y="195.40" width="1.20" height="44.00" fill="#bebebe"/>
<rect x="435.00" y="201.90" width="1.20" height="37.50" fill="#bebebe"/>
<rect x="437.78" y="216.40" width="1.05" height="23.00" fill="#bebebe"/>
<rect x="440.28" y="226.40" width="1.05" height="13.00" fill="#bebebe"/>
<path d="M443.40 239.40 L443.40 236.53 L443.90 236.53 L443.90 232.08 L444.40 232.08 L444.40 236.41 L444.90 236.41 L444.90 233.68 L445.40 233.68 L445.40 226.14 L445.90 226.14 L445.90 229.61 L446.40 229.61 L446.40 230.13 L446.90 230.13 L446.90 234.03 L447.40 234.03 L447.40 234.31 L447.90 234.31 L447.90 233.04 L448.40 233.04 L448.40 232.50 L448.90 232.50 L448.90 227.69 L449.40 227.69 L449.40 228.42 L449.90 228.42 L449.90 231.69 L450.40 231.69 L450.40 233.32 L450.60 233.32 L450.60 239.40Z" fill="#000"/>
<rect x="445.28" y="227.90" width="1.05" height="11.50" fill="#000"/>
<rect x="447.48" y="221.40" width="1.05" height="18.00" fill="#000"/>
<rect x="448.88" y="212.90" width="1.05" height="26.50" fill="#000"/>
<rect x="449.78" y="227.10" width="0.82" height="12.30" fill="#000"/>
<path d="M450.60 239.40 L450.60 234.05 L451.10 234.05 L451.10 235.26 L451.60 235.26 L451.60 232.68 L452.10 232.68 L452.10 234.98 L452.60 234.98 L452.60 234.12 L453.10 234.12 L453.10 235.26 L453.60 235.26 L453.60 234.76 L454.10 234.76 L454.10 230.85 L454.60 230.85 L454.60 230.12 L455.10 230.12 L455.10 232.06 L455.60 232.06 L455.60 232.76 L456.10 232.76 L456.10 229.66 L456.60 229.66 L456.60 225.85 L457.10 225.85 L457.10 224.48 L457.60 224.48 L457.60 230.16 L458.10 230.16 L458.10 226.70 L458.60 226.70 L458.60 225.45 L459.10 225.45 L459.10 216.51 L459.60 216.51 L459.60 219.20 L460.10 219.20 L460.10 219.38 L460.60 219.38 L460.60 224.43 L461.10 224.43 L461.10 223.40 L461.60 223.40 L461.60 229.42 L462.10 229.42 L462.10 235.65 L462.60 235.65 L462.60 235.10 L463.10 235.10 L463.10 231.33 L463.60 231.33 L463.60 231.52 L464.10 231.52 L464.10 235.64 L464.60 235.64 L464.60 235.86 L465.10 235.86 L465.10 233.04 L465.30 233.04 L465.30 239.40Z" fill="#bebebe"/>
<rect x="456.30" y="201.40" width="1.20" height="38.00" fill="#bebebe"/>
<rect x="457.78" y="212.90" width="1.05" height="26.50" fill="#bebebe"/>
<rect x="459.00" y="159.40" width="0.90" height="80.00" fill="#bebebe"/>
<rect x="459.75" y="26.80" width="1.10" height="212.60" fill="#bebebe"/>
<rect x="462.78" y="217.90" width="1.05" height="21.50" fill="#bebebe"/>
<path d="M465.30 239.40 L465.30 218.62 L465.80 218.62 L465.80 219.95 L466.30 219.95 L466.30 227.13 L466.80 227.13 L466.80 223.20 L467.30 223.20 L467.30 229.47 L467.80 229.47 L467.80 230.62 L468.30 230.62 L468.30 230.55 L468.80 230.55 L468.80 224.28 L469.30 224.28 L469.30 230.99 L469.80 230.99 L469.80 222.85 L470.30 222.85 L470.30 223.75 L470.80 223.75 L470.80 232.27 L471.30 232.27 L471.30 224.97 L471.80 224.97 L471.80 232.11 L472.30 232.11 L472.30 225.57 L472.80 225.57 L472.80 225.37 L473.30 225.37 L473.30 220.96 L473.80 220.96 L473.80 224.42 L474.30 224.42 L474.30 232.15 L474.80 232.15 L474.80 228.52 L475.30 228.52 L475.30 215.26 L475.80 215.26 L475.80 224.76 L476.30 224.76 L476.30 228.13 L476.80 228.13 L476.80 227.02 L477.30 227.02 L477.30 226.78 L477.80 226.78 L477.80 229.60 L478.30 229.60 L478.30 224.15 L478.80 224.15 L478.80 226.60 L479.30 226.60 L479.30 231.13 L479.80 231.13 L479.80 229.25 L480.30 229.25 L480.30 230.19 L480.80 230.19 L480.80 223.62 L481.30 223.62 L481.30 227.93 L481.80 227.93 L481.80 224.63 L482.30 224.63 L482.30 225.40 L482.80 225.40 L482.80 226.65 L483.30 226.65 L483.30 229.08 L483.40 229.08 L483.40 239.40Z" fill="#000"/>
<rect x="465.30" y="158.80" width="1.20" height="80.60" fill="#000"/>
<rect x="466.98" y="217.40" width="1.05" height="22.00" fill="#000"/>
<rect x="469.48" y="214.60" width="1.05" height="24.80" fill="#000"/>
<rect x="470.98" y="219.40" width="1.05" height="20.00" fill="#000"/>
<rect x="472.80" y="195.00" width="1.20" height="44.40" fill="#000"/>
<rect x="475.28" y="217.10" width="1.05" height="22.30" fill="#000"/>
<rect x="476.98" y="221.40" width="1.05" height="18.00" fill="#000"/>
<rect x="479.48" y="220.40" width="1.05" height="19.00" fill="#000"/>
<rect x="481.78" y="222.10" width="1.05" height="17.30" fill="#000"/>
<path d="M483.40 239.40 L483.40 227.50 L483.90 227.50 L483.90 234.39 L484.40 234.39 L484.40 235.54 L484.90 235.54 L484.90 235.12 L485.40 235.12 L485.40 234.79 L485.90 234.79 L485.90 232.47 L486.40 232.47 L486.40 224.46 L486.90 224.46 L486.90 218.59 L487.40 218.59 L487.40 227.48 L487.90 227.48 L487.90 233.40 L488.40 233.40 L488.40 230.62 L488.90 230.62 L488.90 230.49 L489.40 230.49 L489.40 234.91 L489.90 234.91 L489.90 232.21 L490.40 232.21 L490.40 231.26 L490.90 231.26 L490.90 235.17 L491.40 235.17 L491.40 231.21 L491.90 231.21 L491.90 235.23 L492.40 235.23 L492.40 231.33 L492.90 231.33 L492.90 234.56 L493.40 234.56 L493.40 231.37 L493.90 231.37 L493.90 234.35 L494.40 234.35 L494.40 234.35 L494.90 234.35 L494.90 232.11 L495.40 232.11 L495.40 232.80 L495.90 232.80 L495.90 232.26 L496.40 232.26 L496.40 230.41 L496.90 230.41 L496.90 233.62 L497.40 233.62 L497.40 234.69 L497.90 234.69 L497.90 235.49 L498.40 235.49 L498.40 235.24 L498.90 235.24 L498.90 227.23 L499.40 227.23 L499.40 233.97 L499.60 233.97 L499.60 239.40Z" fill="#bebebe"/>
<rect x="486.50" y="196.70" width="1.20" height="42.70" fill="#bebebe"/>
<rect x="489.48" y="229.40" width="1.05" height="10.00" fill="#bebebe"/>
<rect x="493.68" y="227.10" width="1.05" height="12.30" fill="#bebebe"/>
<rect x="496.78" y="217.10" width="1.05" height="22.30" fill="#bebebe"/>
<path d="M499.60 239.40 L499.60 226.29 L500.10 226.29 L500.10 231.66 L500.60 231.66 L500.60 231.70 L501.10 231.70 L501.10 226.87 L501.60 226.87 L501.60 228.76 L502.10 228.76 L502.10 229.66 L502.60 229.66 L502.60 234.46 L503.10 234.46 L503.10 234.58 L503.60 234.58 L503.60 230.71 L504.10 230.71 L504.10 230.17 L504.60 230.17 L504.60 232.85 L505.10 232.85 L505.10 235.54 L505.60 235.54 L505.60 232.92 L506.10 232.92 L506.10 233.17 L506.60 233.17 L506.60 230.51 L507.10 230.51 L507.10 222.56 L507.60 222.56 L507.60 219.73 L508.10 219.73 L508.10 220.29 L508.60 220.29 L508.60 228.95 L509.10 228.95 L509.10 231.80 L509.60 231.80 L509.60 235.41 L510.10 235.41 L510.10 235.45 L510.60 235.45 L510.60 234.90 L511.10 234.90 L511.10 233.28 L511.60 233.28 L511.60 229.37 L512.10 229.37 L512.10 229.61 L512.60 229.61 L512.60 235.51 L512.90 235.51 L512.90 239.40Z" fill="#000"/>
<rect x="501.10" y="204.40" width="1.20" height="35.00" fill="#000"/>
<rect x="502.98" y="228.40" width="1.05" height="11.00" fill="#000"/>
<rect x="504.78" y="227.10" width="1.05" height="12.30" fill="#000"/>
<rect x="507.40" y="168.80" width="1.20" height="70.60" fill="#000"/>
<rect x="508.68" y="217.40" width="1.05" height="22.00" fill="#000"/>
<rect x="511.18" y="227.10" width="1.05" height="12.30" fill="#000"/>
<path d="M512.90 239.40 L512.90 228.69 L513.40 228.69 L513.40 230.14 L513.90 230.14 L513.90 227.35 L514.40 227.35 L514.40 229.03 L514.90 229.03 L514.90 227.53 L515.40 227.53 L515.40 230.48 L515.90 230.48 L515.90 233.08 L516.40 233.08 L516.40 229.54 L516.90 229.54 L516.90 222.91 L517.40 222.91 L517.40 214.94 L517.90 214.94 L517.90 218.03 L518.40 218.03 L518.40 216.81 L518.90 216.81 L518.90 222.91 L519.40 222.91 L519.40 220.65 L519.90 220.65 L519.90 232.68 L520.40 232.68 L520.40 228.78 L520.90 228.78 L520.90 229.32 L521.40 229.32 L521.40 231.53 L521.90 231.53 L521.90 230.39 L522.40 230.39 L522.40 228.57 L522.90 228.57 L522.90 229.24 L523.40 229.24 L523.40 227.02 L523.90 227.02 L523.90 227.64 L524.40 227.64 L524.40 226.74 L524.90 226.74 L524.90 232.75 L525.40 232.75 L525.40 228.88 L525.90 228.88 L525.90 226.91 L526.40 226.91 L526.40 233.81 L526.90 233.81 L526.90 227.96 L527.30 227.96 L527.30 239.40Z" fill="#bebebe"/>
<rect x="514.90" y="207.90" width="1.20" height="31.50" fill="#bebebe"/>
<rect x="517.20" y="145.80" width="1.10" height="93.60" fill="#bebebe"/>
<rect x="518.25" y="187.40" width="0.90" height="52.00" fill="#bebebe"/>
<rect x="519.98" y="227.40" width="1.05" height="12.00" fill="#bebebe"/>
<rect x="523.50" y="199.40" width="1.20" height="40.00" fill="#bebebe"/>
<rect x="525.27" y="216.40" width="1.05" height="23.00" fill="#bebebe"/>
<path d="M527.30 239.40 L527.30 232.24 L527.80 232.24 L527.80 230.45 L528.30 230.45 L528.30 234.00 L528.80 234.00 L528.80 227.59 L529.30 227.59 L529.30 225.05 L529.80 225.05 L529.80 226.24 L530.30 226.24 L530.30 229.86 L530.80 229.86 L530.80 226.42 L531.30 226.42 L531.30 230.60 L531.80 230.60 L531.80 228.48 L532.30 228.48 L532.30 229.90 L532.80 229.90 L532.80 232.79 L533.30 232.79 L533.30 227.40 L533.80 227.40 L533.80 229.44 L534.30 229.44 L534.30 228.60 L534.80 228.60 L534.80 231.06 L535.30 231.06 L535.30 232.32 L535.70 232.32 L535.70 239.40Z" fill="#000"/>
<rect x="529.20" y="201.70" width="1.20" height="37.70" fill="#000"/>
<rect x="530.98" y="225.40" width="1.05" height="14.00" fill="#000"/>
<rect x="533.68" y="216.40" width="1.05" height="23.00" fill="#000"/>
<rect x="534.48" y="222.40" width="1.05" height="17.00" fill="#000"/>
<path d="M535.70 239.40 L535.70 231.52 L536.20 231.52 L536.20 230.05 L536.70 230.05 L536.70 226.55 L537.20 226.55 L537.20 224.14 L537.70 224.14 L537.70 229.17 L538.20 229.17 L538.20 232.93 L538.70 232.93 L538.70 232.11 L539.20 232.11 L539.20 234.49 L539.70 234.49 L539.70 230.53 L540.20 230.53 L540.20 233.11 L540.70 233.11 L540.70 234.41 L541.20 234.41 L541.20 234.03 L541.70 234.03 L541.70 235.52 L542.20 235.52 L542.20 230.79 L542.70 230.79 L542.70 233.08 L543.20 233.08 L543.20 234.83 L543.70 234.83 L543.70 235.04 L544.20 235.04 L544.20 235.11 L544.70 235.11 L544.70 231.07 L545.20 231.07 L545.20 235.13 L545.70 235.13 L545.70 230.26 L546.20 230.26 L546.20 239.40Z" fill="#bebebe"/>
<rect x="536.70" y="197.00" width="1.20" height="42.40" fill="#bebebe"/>
<rect x="540.27" y="225.40" width="1.05" height="14.00" fill="#bebebe"/>
<rect x="542.77" y="225.40" width="1.05" height="14.00" fill="#bebebe"/>
<path d="M546.20 239.40 L546.20 231.59 L546.70 231.59 L546.70 222.55 L547.20 222.55 L547.20 231.27 L547.70 231.27 L547.70 227.38 L548.20 227.38 L548.20 226.04 L548.70 226.04 L548.70 230.73 L549.20 230.73 L549.20 224.48 L549.70 224.48 L549.70 228.91 L550.20 228.91 L550.20 231.16 L550.70 231.16 L550.70 222.92 L551.20 222.92 L551.20 217.60 L551.70 217.60 L551.70 221.13 L552.20 221.13 L552.20 208.22 L552.70 208.22 L552.70 225.88 L553.20 225.88 L553.20 231.53 L553.70 231.53 L553.70 226.59 L554.20 226.59 L554.20 220.52 L554.70 220.52 L554.70 219.08 L555.20 219.08 L555.20 224.14 L555.70 224.14 L555.70 227.55 L556.20 227.55 L556.20 228.12 L556.70 228.12 L556.70 220.68 L557.20 220.68 L557.20 228.54 L557.70 228.54 L557.70 227.15 L558.20 227.15 L558.20 228.79 L558.70 228.79 L558.70 221.81 L559.20 221.81 L559.20 221.66 L559.70 221.66 L559.70 227.84 L560.20 227.84 L560.20 223.72 L560.70 223.72 L560.70 209.30 L560.90 209.30 L560.90 239.40Z" fill="#000"/>
<rect x="546.48" y="219.60" width="1.05" height="19.80" fill="#000"/>
<rect x="548.48" y="223.40" width="1.05" height="16.00" fill="#000"/>
<rect x="550.90" y="178.00" width="1.20" height="61.40" fill="#000"/>
<rect x="552.48" y="219.40" width="1.05" height="20.00" fill="#000"/>
<rect x="554.15" y="190.00" width="1.20" height="49.40" fill="#000"/>
<rect x="555.68" y="211.40" width="1.05" height="28.00" fill="#000"/>
<rect x="556.98" y="219.40" width="1.05" height="20.00" fill="#000"/>
<rect x="558.65" y="200.00" width="1.20" height="39.40" fill="#000"/>
<path d="M560.90 239.40 L560.90 227.88 L561.40 227.88 L561.40 215.99 L561.90 215.99 L561.90 230.37 L562.40 230.37 L562.40 223.99 L562.90 223.99 L562.90 231.89 L563.40 231.89 L563.40 231.61 L563.90 231.61 L563.90 231.84 L564.40 231.84 L564.40 226.49 L564.90 226.49 L564.90 223.28 L565.40 223.28 L565.40 231.47 L565.90 231.47 L565.90 227.93 L566.40 227.93 L566.40 227.16 L566.90 227.16 L566.90 224.75 L567.40 224.75 L567.40 224.77 L567.90 224.77 L567.90 220.01 L568.40 220.01 L568.40 221.84 L568.90 221.84 L568.90 220.35 L569.40 220.35 L569.40 223.02 L569.90 223.02 L569.90 219.48 L570.40 219.48 L570.40 227.54 L570.90 227.54 L570.90 228.20 L571.40 228.20 L571.40 208.85 L571.90 208.85 L571.90 223.25 L572.40 223.25 L572.40 212.86 L572.90 212.86 L572.90 227.08 L573.40 227.08 L573.40 219.08 L573.90 219.08 L573.90 223.41 L574.40 223.41 L574.40 219.39 L574.90 219.39 L574.90 226.23 L575.40 226.23 L575.40 230.91 L575.90 230.91 L575.90 223.67 L576.40 223.67 L576.40 226.84 L576.90 226.84 L576.90 232.19 L577.40 232.19 L577.40 228.72 L577.60 228.72 L577.60 239.40Z" fill="#bebebe"/>
<rect x="562.77" y="217.90" width="1.05" height="21.50" fill="#bebebe"/>
<rect x="566.00" y="207.70" width="1.20" height="31.70" fill="#bebebe"/>
<rect x="569.50" y="202.00" width="1.20" height="37.40" fill="#bebebe"/>
<rect x="571.90" y="123.00" width="1.20" height="116.40" fill="#bebebe"/>
<rect x="573.98" y="220.40" width="1.05" height="19.00" fill="#bebebe"/>
<rect x="575.48" y="221.40" width="1.05" height="18.00" fill="#bebebe"/>
<path d="M577.60 239.40 L577.60 231.89 L578.10 231.89 L578.10 227.12 L578.60 227.12 L578.60 229.72 L579.10 229.72 L579.10 229.35 L579.60 229.35 L579.60 229.00 L580.10 229.00 L580.10 224.58 L580.60 224.58 L580.60 227.98 L581.10 227.98 L581.10 216.96 L581.60 216.96 L581.60 232.96 L582.10 232.96 L582.10 233.04 L582.60 233.04 L582.60 227.73 L583.10 227.73 L583.10 218.09 L583.60 218.09 L583.60 232.50 L583.90 232.50 L583.90 239.40Z" fill="#000"/>
<rect x="578.77" y="217.90" width="1.05" height="21.50" fill="#000"/>
<rect x="579.90" y="196.70" width="1.20" height="42.70" fill="#000"/>
<rect x="582.48" y="227.10" width="1.05" height="12.30" fill="#000"/>
<path d="M583.90 239.40 L583.90 233.31 L584.40 233.31 L584.40 223.30 L584.90 223.30 L584.90 231.15 L585.40 231.15 L585.40 233.04 L585.90 233.04 L585.90 231.68 L586.40 231.68 L586.40 226.64 L586.90 226.64 L586.90 224.06 L587.40 224.06 L587.40 227.91 L587.90 227.91 L587.90 228.33 L588.40 228.33 L588.40 233.77 L588.90 233.77 L588.90 233.75 L589.40 233.75 L589.40 230.56 L589.90 230.56 L589.90 233.45 L590.40 233.45 L590.40 233.25 L590.90 233.25 L590.90 228.20 L591.40 228.20 L591.40 225.69 L591.90 225.69 L591.90 228.30 L592.40 228.30 L592.40 232.81 L592.90 232.81 L592.90 233.49 L593.40 233.49 L593.40 234.21 L593.90 234.21 L593.90 232.33 L594.40 232.33 L594.40 233.74 L594.90 233.74 L594.90 231.87 L595.40 231.87 L595.40 232.44 L595.90 232.44 L595.90 233.49 L596.40 233.49 L596.40 234.34 L596.90 234.34 L596.90 232.14 L597.40 232.14 L597.40 230.64 L597.90 230.64 L597.90 239.40Z" fill="#bebebe"/>
<rect x="585.18" y="218.80" width="1.05" height="20.60" fill="#bebebe"/>
<rect x="586.60" y="195.90" width="1.20" height="43.50" fill="#bebebe"/>
<rect x="588.77" y="225.40" width="1.05" height="14.00" fill="#bebebe"/>
<rect x="591.00" y="209.40" width="1.20" height="30.00" fill="#bebebe"/>
<rect x="592.98" y="222.90" width="1.05" height="16.50" fill="#bebebe"/>
<rect x="595.18" y="223.80" width="1.05" height="15.60" fill="#bebebe"/>
<path d="M597.90 239.40 L597.90 231.14 L598.40 231.14 L598.40 233.22 L598.90 233.22 L598.90 228.87 L599.40 228.87 L599.40 221.21 L599.90 221.21 L599.90 225.19 L600.40 225.19 L600.40 227.92 L600.90 227.92 L600.90 231.47 L601.40 231.47 L601.40 230.93 L601.90 230.93 L601.90 231.56 L602.40 231.56 L602.40 230.82 L602.90 230.82 L602.90 232.81 L603.40 232.81 L603.40 235.05 L603.90 235.05 L603.90 233.04 L604.40 233.04 L604.40 233.35 L604.90 233.35 L604.90 229.64 L605.40 229.64 L605.40 232.85 L605.90 232.85 L605.90 230.23 L606.40 230.23 L606.40 230.95 L606.90 230.95 L606.90 235.03 L607.40 235.03 L607.40 232.41 L607.90 232.41 L607.90 226.94 L608.40 226.94 L608.40 234.94 L608.90 234.94 L608.90 231.46 L609.40 231.46 L609.40 227.32 L609.90 227.32 L609.90 231.19 L610.10 231.19 L610.10 239.40Z" fill="#000"/>
<rect x="599.20" y="193.00" width="1.20" height="46.40" fill="#000"/>
<rect x="600.48" y="221.40" width="1.05" height="18.00" fill="#000"/>
<rect x="601.38" y="213.40" width="1.05" height="26.00" fill="#000"/>
<rect x="603.27" y="227.90" width="1.05" height="11.50" fill="#000"/>
<rect x="605.48" y="229.40" width="1.05" height="10.00" fill="#000"/>
<rect x="607.98" y="220.90" width="1.05" height="18.50" fill="#000"/>
<rect x="609.08" y="228.80" width="1.02" height="10.60" fill="#000"/>
<path d="M610.10 239.40 L610.10 235.55 L610.60 235.55 L610.60 234.09 L611.10 234.09 L611.10 229.97 L611.60 229.97 L611.60 231.00 L612.10 231.00 L612.10 234.52 L612.60 234.52 L612.60 235.62 L613.10 235.62 L613.10 234.80 L613.60 234.80 L613.60 234.63 L614.10 234.63 L614.10 231.11 L614.60 231.11 L614.60 233.55 L615.10 233.55 L615.10 233.28 L615.60 233.28 L615.60 229.95 L616.10 229.95 L616.10 223.97 L616.60 223.97 L616.60 218.74 L617.10 218.74 L617.10 221.21 L617.60 221.21 L617.60 216.41 L618.10 216.41 L618.10 224.68 L618.60 224.68 L618.60 228.83 L619.10 228.83 L619.10 230.49 L619.60 230.49 L619.60 235.54 L620.10 235.54 L620.10 227.26 L620.60 227.26 L620.60 235.51 L621.10 235.51 L621.10 235.19 L621.60 235.19 L621.60 231.56 L622.10 231.56 L622.10 232.00 L622.60 232.00 L622.60 224.49 L623.10 224.49 L623.10 225.35 L623.60 225.35 L623.60 229.94 L624.10 229.94 L624.10 230.73 L624.60 230.73 L624.60 226.66 L625.10 226.66 L625.10 227.59 L625.60 227.59 L625.60 230.14 L626.10 230.14 L626.10 231.17 L626.30 231.17 L626.30 239.40Z" fill="#bebebe"/>
<rect x="611.77" y="225.40" width="1.05" height="14.00" fill="#bebebe"/>
<rect x="613.77" y="227.90" width="1.05" height="11.50" fill="#bebebe"/>
<rect x="616.45" y="148.80" width="0.90" height="90.60" fill="#bebebe"/>
<rect x="617.30" y="130.00" width="1.00" height="109.40" fill="#bebebe"/>
<rect x="620.48" y="219.60" width="1.05" height="19.80" fill="#bebebe"/>
<rect x="622.50" y="204.40" width="1.20" height="35.00" fill="#bebebe"/>
<rect x="624.90" y="208.40" width="1.20" height="31.00" fill="#bebebe"/>
<path d="M626.30 239.40 L626.30 226.14 L626.80 226.14 L626.80 233.95 L627.30 233.95 L627.30 232.25 L627.80 232.25 L627.80 225.16 L628.30 225.16 L628.30 221.55 L628.80 221.55 L628.80 215.60 L629.30 215.60 L629.30 226.85 L629.80 226.85 L629.80 228.74 L630.30 228.74 L630.30 233.77 L630.80 233.77 L630.80 230.26 L631.30 230.26 L631.30 231.19 L631.80 231.19 L631.80 227.16 L632.30 227.16 L632.30 233.12 L632.80 233.12 L632.80 233.95 L633.30 233.95 L633.30 226.29 L633.80 226.29 L633.80 226.57 L634.30 226.57 L634.30 233.91 L634.80 233.91 L634.80 231.56 L635.30 231.56 L635.30 228.82 L635.80 228.82 L635.80 228.34 L636.30 228.34 L636.30 233.85 L636.80 233.85 L636.80 233.76 L637.30 233.76 L637.30 228.33 L637.80 228.33 L637.80 226.63 L638.30 226.63 L638.30 233.75 L638.80 233.75 L638.80 233.61 L638.90 233.61 L638.90 239.40Z" fill="#000"/>
<rect x="628.15" y="182.40" width="1.20" height="57.00" fill="#000"/>
<rect x="629.98" y="226.40" width="1.05" height="13.00" fill="#000"/>
<rect x="631.27" y="227.10" width="1.05" height="12.30" fill="#000"/>
<rect x="634.68" y="217.60" width="1.05" height="21.80" fill="#000"/>
<rect x="637.48" y="222.60" width="1.05" height="16.80" fill="#000"/>
<path d="M638.90 239.40 L638.90 234.43 L639.40 234.43 L639.40 232.56 L639.90 232.56 L639.90 235.22 L640.40 235.22 L640.40 234.54 L640.90 234.54 L640.90 230.99 L641.40 230.99 L641.40 231.90 L641.90 231.90 L641.90 235.39 L642.40 235.39 L642.40 229.91 L642.90 229.91 L642.90 235.24 L643.40 235.24 L643.40 233.57 L643.80 233.57 L643.80 239.40Z" fill="#bebebe"/>
<rect x="640.48" y="223.80" width="1.05" height="15.60" fill="#bebebe"/>
<path d="M643.80 239.40 L643.80 232.07 L644.30 232.07 L644.30 228.76 L644.80 228.76 L644.80 225.01 L645.30 225.01 L645.30 212.06 L645.80 212.06 L645.80 229.60 L646.30 229.60 L646.30 228.73 L646.80 228.73 L646.80 231.85 L647.30 231.85 L647.30 232.33 L647.80 232.33 L647.80 232.87 L648.30 232.87 L648.30 229.30 L648.80 229.30 L648.80 215.27 L649.30 215.27 L649.30 231.82 L649.80 231.82 L649.80 221.59 L650.30 221.59 L650.30 201.64 L650.80 201.64 L650.80 219.05 L651.30 219.05 L651.30 199.60 L651.80 199.60 L651.80 227.19 L652.30 227.19 L652.30 229.41 L652.80 229.41 L652.80 227.36 L653.30 227.36 L653.30 220.52 L653.80 220.52 L653.80 220.75 L654.30 220.75 L654.30 223.23 L654.80 223.23 L654.80 206.89 L655.30 206.89 L655.30 229.18 L655.80 229.18 L655.80 206.97 L656.30 206.97 L656.30 221.37 L656.80 221.37 L656.80 225.22 L657.30 225.22 L657.30 219.71 L657.80 219.71 L657.80 228.38 L658.30 228.38 L658.30 225.46 L658.80 225.46 L658.80 229.91 L659.30 229.91 L659.30 224.51 L659.60 224.51 L659.60 239.40Z" fill="#000"/>
<rect x="644.27" y="219.60" width="1.05" height="19.80" fill="#000"/>
<rect x="646.48" y="227.40" width="1.05" height="12.00" fill="#000"/>
<rect x="648.77" y="219.60" width="1.05" height="19.80" fill="#000"/>
<rect x="650.60" y="192.00" width="1.20" height="47.40" fill="#000"/>
<rect x="652.18" y="210.40" width="1.05" height="29.00" fill="#000"/>
<rect x="653.77" y="217.10" width="1.05" height="22.30" fill="#000"/>
<rect x="655.60" y="204.60" width="1.20" height="34.80" fill="#000"/>
<rect x="657.00" y="198.40" width="1.20" height="41.00" fill="#000"/>
<rect x="658.77" y="227.10" width="0.83" height="12.30" fill="#000"/>
<path d="M659.60 239.40 L659.60 232.75 L660.10 232.75 L660.10 230.43 L660.60 230.43 L660.60 227.99 L661.10 227.99 L661.10 228.11 L661.60 228.11 L661.60 229.24 L662.10 229.24 L662.10 227.10 L662.60 227.10 L662.60 224.94 L663.10 224.94 L663.10 227.91 L663.60 227.91 L663.60 230.62 L664.10 230.62 L664.10 223.30 L664.60 223.30 L664.60 233.51 L664.80 233.51 L664.80 239.40Z" fill="#bebebe"/>
<rect x="660.98" y="212.90" width="1.05" height="26.50" fill="#bebebe"/>
<rect x="662.10" y="195.40" width="1.20" height="44.00" fill="#bebebe"/>
<rect x="663.27" y="217.90" width="1.05" height="21.50" fill="#bebebe"/>
<line x1="41" y1="121" x2="683" y2="121" stroke="#ee4848" stroke-width="1.25"/>
<line x1="40.6" y1="27.2" x2="40.6" y2="239.4" stroke="#111" stroke-width="0.85"/>
<line x1="33" y1="239.40" x2="40.6" y2="239.40" stroke="#111" stroke-width="0.95"/>
<text x="26.2" y="241.20" text-anchor="end" class="tk">0</text>
<line x1="33" y1="186.35" x2="40.6" y2="186.35" stroke="#111" stroke-width="0.95"/>
<text x="26.2" y="188.15" text-anchor="end" class="tk">200</text>
<line x1="33" y1="133.30" x2="40.6" y2="133.30" stroke="#111" stroke-width="0.95"/>
<text x="26.2" y="135.10" text-anchor="end" class="tk">400</text>
<line x1="33" y1="80.25" x2="40.6" y2="80.25" stroke="#111" stroke-width="0.95"/>
<text x="26.2" y="82.05" text-anchor="end" class="tk">600</text>
<line x1="33" y1="27.20" x2="40.6" y2="27.20" stroke="#111" stroke-width="0.95"/>
<text x="26.2" y="29.00" text-anchor="end" class="tk">800</text>
<line x1="73.4" y1="239.4" x2="662.2" y2="239.4" stroke="#111" stroke-width="0.8"/>
<line x1="73.40" y1="239.4" x2="73.40" y2="247.9" stroke="#111" stroke-width="0.8"/>
<text transform="translate(75.00,256.2) rotate(-90)" text-anchor="end" class="tk">1</text>
<line x1="99.40" y1="239.4" x2="99.40" y2="247.9" stroke="#111" stroke-width="0.8"/>
<text transform="translate(101.00,256.2) rotate(-90)" text-anchor="end" class="tk">2</text>
<line x1="123.40" y1="239.4" x2="123.40" y2="247.9" stroke="#111" stroke-width="0.8"/>
<text transform="translate(125.00,256.2) rotate(-90)" text-anchor="end" class="tk">3</text>
<line x1="147.40" y1="239.4" x2="147.40" y2="247.9" stroke="#111" stroke-width="0.8"/>
<text transform="translate(149.00,256.2) rotate(-90)" text-anchor="end" class="tk">4</text>
<line x1="172.70" y1="239.4" x2="172.70" y2="247.9" stroke="#111" stroke-width="0.8"/>
<text transform="translate(174.30,256.2) rotate(-90)" text-anchor="end" class="tk">5</text>
<line x1="198.90" y1="239.4" x2="198.90" y2="247.9" stroke="#111" stroke-width="0.8"/>
<text transform="translate(200.50,256.2) rotate(-90)" text-anchor="end" class="tk">6</text>
<line x1="222.90" y1="239.4" x2="222.90" y2="247.9" stroke="#111" stroke-width="0.8"/>
<text transform="translate(224.50,256.2) rotate(-90)" text-anchor="end" class="tk">7</text>
<line x1="248.50" y1="239.4" x2="248.50" y2="247.9" stroke="#111" stroke-width="0.8"/>
<text transform="translate(250.10,256.2) rotate(-90)" text-anchor="end" class="tk">8</text>
<line x1="275.60" y1="239.4" x2="275.60" y2="247.9" stroke="#111" stroke-width="0.8"/>
<text transform="translate(277.20,256.2) rotate(-90)" text-anchor="end" class="tk">9</text>
<line x1="301.90" y1="239.4" x2="301.90" y2="247.9" stroke="#111" stroke-width="0.8"/>
<text transform="translate(303.50,256.2) rotate(-90)" text-anchor="end" class="tk">10</text>
<line x1="323.40" y1="239.4" x2="323.40" y2="247.9" stroke="#111" stroke-width="0.8"/>
<text transform="translate(325.00,256.2) rotate(-90)" text-anchor="end" class="tk">11</text>
<line x1="343.40" y1="239.4" x2="343.40" y2="247.9" stroke="#111" stroke-width="0.8"/>
<text transform="translate(345.00,256.2) rotate(-90)" text-anchor="end" class="tk">12</text>
<line x1="369.80" y1="239.4" x2="369.80" y2="247.9" stroke="#111" stroke-width="0.8"/>
<text transform="translate(371.40,256.2) rotate(-90)" text-anchor="end" class="tk">13</text>
<line x1="394.50" y1="239.4" x2="394.50" y2="247.9" stroke="#111" stroke-width="0.8"/>
<text transform="translate(396.10,256.2) rotate(-90)" text-anchor="end" class="tk">14</text>
<line x1="409.80" y1="239.4" x2="409.80" y2="247.9" stroke="#111" stroke-width="0.8"/>
<text transform="translate(411.40,256.2) rotate(-90)" text-anchor="end" class="tk">15</text>
<line x1="429.90" y1="239.4" x2="429.90" y2="247.9" stroke="#111" stroke-width="0.8"/>
<text transform="translate(431.50,256.2) rotate(-90)" text-anchor="end" class="tk">16</text>
<line x1="447.40" y1="239.4" x2="447.40" y2="247.9" stroke="#111" stroke-width="0.8"/>
<text transform="translate(449.00,256.2) rotate(-90)" text-anchor="end" class="tk">17</text>
<line x1="458.30" y1="239.4" x2="458.30" y2="247.9" stroke="#111" stroke-width="0.8"/>
<text transform="translate(459.90,256.2) rotate(-90)" text-anchor="end" class="tk">18</text>
<line x1="474.60" y1="239.4" x2="474.60" y2="247.9" stroke="#111" stroke-width="0.8"/>
<text transform="translate(476.20,256.2) rotate(-90)" text-anchor="end" class="tk">19</text>
<line x1="491.65" y1="239.4" x2="491.65" y2="247.9" stroke="#111" stroke-width="0.8"/>
<text transform="translate(493.25,256.2) rotate(-90)" text-anchor="end" class="tk">20</text>
<line x1="506.40" y1="239.4" x2="506.40" y2="247.9" stroke="#111" stroke-width="0.8"/>
<text transform="translate(508.00,256.2) rotate(-90)" text-anchor="end" class="tk">21</text>
<line x1="520.50" y1="239.4" x2="520.50" y2="247.9" stroke="#111" stroke-width="0.8"/>
<text transform="translate(522.10,256.2) rotate(-90)" text-anchor="end" class="tk">22</text>
<line x1="531.50" y1="239.4" x2="531.50" y2="247.9" stroke="#111" stroke-width="0.8"/>
<text transform="translate(533.10,256.2) rotate(-90)" text-anchor="end" class="tk">23</text>
<line x1="541.10" y1="239.4" x2="541.10" y2="247.9" stroke="#111" stroke-width="0.8"/>
<text transform="translate(542.70,256.2) rotate(-90)" text-anchor="end" class="tk">24</text>
<line x1="553.70" y1="239.4" x2="553.70" y2="247.9" stroke="#111" stroke-width="0.8"/>
<text transform="translate(555.30,256.2) rotate(-90)" text-anchor="end" class="tk">25</text>
<line x1="569.45" y1="239.4" x2="569.45" y2="247.9" stroke="#111" stroke-width="0.8"/>
<text transform="translate(571.05,256.2) rotate(-90)" text-anchor="end" class="tk">26</text>
<line x1="581.10" y1="239.4" x2="581.10" y2="247.9" stroke="#111" stroke-width="0.8"/>
<text transform="translate(582.70,256.2) rotate(-90)" text-anchor="end" class="tk">27</text>
<line x1="591.25" y1="239.4" x2="591.25" y2="247.9" stroke="#111" stroke-width="0.8"/>
<text transform="translate(592.85,256.2) rotate(-90)" text-anchor="end" class="tk">28</text>
<line x1="604.40" y1="239.4" x2="604.40" y2="247.9" stroke="#111" stroke-width="0.8"/>
<text transform="translate(606.00,256.2) rotate(-90)" text-anchor="end" class="tk">29</text>
<line x1="618.40" y1="239.4" x2="618.40" y2="247.9" stroke="#111" stroke-width="0.8"/>
<text transform="translate(620.00,256.2) rotate(-90)" text-anchor="end" class="tk">30</text>
<line x1="632.80" y1="239.4" x2="632.80" y2="247.9" stroke="#111" stroke-width="0.8"/>
<text transform="translate(634.40,256.2) rotate(-90)" text-anchor="end" class="tk">31</text>
<line x1="641.50" y1="239.4" x2="641.50" y2="247.9" stroke="#111" stroke-width="0.8"/>
<text transform="translate(643.10,256.2) rotate(-90)" text-anchor="end" class="tk">32</text>
<line x1="651.90" y1="239.4" x2="651.90" y2="247.9" stroke="#111" stroke-width="0.8"/>
<text transform="translate(653.50,256.2) rotate(-90)" text-anchor="end" class="tk">33</text>
<line x1="662.20" y1="239.4" x2="662.20" y2="247.9" stroke="#111" stroke-width="0.8"/>
<text transform="translate(663.80,256.2) rotate(-90)" text-anchor="end" class="tk">34</text>
<text class="lab" transform="translate(0.8,78.6) rotate(90)" textLength="69" lengthAdjust="spacingAndGlyphs">Local Score</text>
<text class="lab" x="309.3" y="282.7" textLength="73.6" lengthAdjust="spacingAndGlyphs">Chromosome</text>
<text class="g" x="135.45" y="64.10" textLength="43.16" lengthAdjust="spacingAndGlyphs">SLC30A7,</text>
<text class="g" x="183.65" y="64.10" textLength="39.59" lengthAdjust="spacingAndGlyphs">VCAM1,</text>
<text class="g" x="135.45" y="77.10" textLength="33.18" lengthAdjust="spacingAndGlyphs">GPR88,</text>
<text class="g" x="172.45" y="77.10" textLength="36.16" lengthAdjust="spacingAndGlyphs">cdc14ab,</text>
<text class="g" x="135.45" y="89.80" textLength="29.48" lengthAdjust="spacingAndGlyphs">RTCA,</text>
<text class="g" x="168.85" y="89.80" textLength="12.63" lengthAdjust="spacingAndGlyphs">dbt</text>
<text class="g" x="260.05" y="99.70" textLength="34.85" lengthAdjust="spacingAndGlyphs">CEP250</text>
<text class="g" x="329.85" y="7.90" textLength="33.08" lengthAdjust="spacingAndGlyphs">Scube1,</text>
<text class="g" x="329.85" y="20.70" textLength="44.78" lengthAdjust="spacingAndGlyphs">SAMM50,</text>
<text class="g" x="329.65" y="33.70" textLength="47.37" lengthAdjust="spacingAndGlyphs">ALDH1L2,</text>
<text class="g" x="381.55" y="33.70" textLength="22.49" lengthAdjust="spacingAndGlyphs">NOP,</text>
<text class="g" x="329.65" y="46.50" textLength="32.25" lengthAdjust="spacingAndGlyphs">ETNK1</text>
<text class="g" x="479.45" y="18.50" textLength="33.16" lengthAdjust="spacingAndGlyphs">LRFN5,</text>
<text class="g" x="517.35" y="18.50" textLength="42.67" lengthAdjust="spacingAndGlyphs">SAMD15,</text>
<text class="g" x="479.45" y="31.20" textLength="48.98" lengthAdjust="spacingAndGlyphs">ALDH6A1,</text>
<text class="g" x="532.65" y="31.20" textLength="41.89" lengthAdjust="spacingAndGlyphs">ENTPD5,</text>
<text class="g" x="479.45" y="44.10" textLength="30.56" lengthAdjust="spacingAndGlyphs">PRP39,</text>
<text class="g" x="514.75" y="44.10" textLength="26.69" lengthAdjust="spacingAndGlyphs">FUBI,</text>
<text class="g" x="543.85" y="44.10" textLength="33.88" lengthAdjust="spacingAndGlyphs">FKBP3,</text>
<text class="g" x="479.45" y="57.00" textLength="34.18" lengthAdjust="spacingAndGlyphs">HEBP1,</text>
<text class="g" x="517.45" y="57.00" textLength="28.55" lengthAdjust="spacingAndGlyphs">Mdga2</text>
</svg>
</body></html>
